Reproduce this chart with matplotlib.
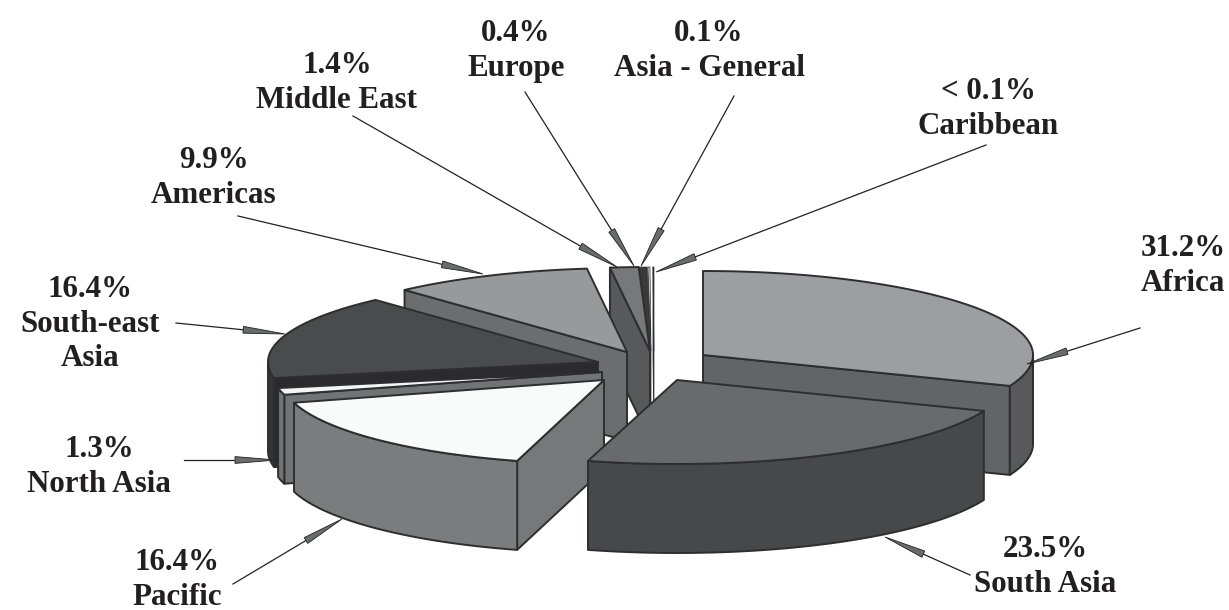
#!/usr/bin/env python3
# exploded 3d style pie, drawn by hand because matplotlib has no pie3d
import numpy as np
import matplotlib
matplotlib.use('Agg')
import matplotlib.pyplot as plt
from matplotlib.patches import Polygon

# data, clockwise from 12 o'clock
regions = ['Africa', 'South Asia', 'Pacific', 'North Asia', 'South-east\nAsia',
           'Americas', 'Middle East', 'Europe', 'Asia - General', 'Caribbean']
shares = [31.2, 23.5, 16.4, 1.3, 16.4, 9.9, 1.4, 0.4, 0.1, 0.05]
share_text = ['31.2%', '23.5%', '16.4%', '1.3%', '16.4%', '9.9%', '1.4%', '0.4%', '0.1%', '< 0.1%']

# styling per slice: top, wall, cut face
top_col = ['#9c9ea1', '#696a6c', '#f9fafa', '#f4f5f5', '#4a4b4d', '#97999b', '#77787a', '#3a3a3c', '#d5d6d6', '#262627']
wall_col = ['#58595b', '#47484a', '#7b7c7e', '#727375', '#333436', '#6c6d6f', '#58595b', '#333335', '#6c6d6f', '#262627']
face_col = ['#636466', '#47484a', '#77787a', '#727375', '#2b2b2d', '#6c6d6f', '#58595b', '#333335', '#6c6d6f', '#262627']
# where each exploded slice has its tip, in pixels
tip_x = [703, 677, 604, 602, 598, 627, 650, 650, 651, 654]
tip_y = [355, 380, 380, 372, 362, 352, 351, 351, 351, 351]
slice_rx = [330, 330, 322, 330, 330, 330, 330, 330, 330, 330]
draw_order = [9, 8, 7, 6, 0, 5, 4, 3, 2, 1]

ry, depth = 84, 89

# label position (centre of block) and leader start/end
label_x = [1183, 1045, 177, 99, 90, 214, 337, 516, 709, 988]
label_y = [266, 567, 580, 467, 324, 178, 83, 51, 51, 109]
lead_from = [(1140, 328), (970, 575), (233, 584), (184, 460), (176, 323),
             (238, 216), (353, 116), (525, 92), (734, 96), (986, 145)]
lead_to = [(1027, 364), (885, 537), (342, 519), (277, 460), (285, 334),
           (483, 274), (617, 267), (634, 266), (641, 266), (656, 272)]

plt.rcParams['font.family'] = ['Liberation Serif', 'DejaVu Serif']
fig = plt.figure(figsize=(12.29, 6.10), dpi=100)
ax = fig.add_axes([0, 0, 1, 1])
ax.set_xlim(0, 1229)
ax.set_ylim(610, 0)
ax.axis('off')

edge = '#2e2e30'

def rim(i, deg):
    t = np.radians(deg)
    return tip_x[i] + slice_rx[i] * np.sin(t), tip_y[i] - ry * np.cos(t)

def arc_pts(i, a, b):
    n = max(int(abs(b - a)), 2)
    x, y = rim(i, np.linspace(a, b, n))
    return np.column_stack([x, y])

def flat(pts, col, z, lw=1.4):
    ax.add_patch(Polygon(pts, closed=True, facecolor=col, edgecolor=edge, lw=lw, joinstyle='round', zorder=z))

ends = np.cumsum(shares) / np.sum(shares) * 360
starts = np.concatenate([[0], ends[:-1]])

for z, i in enumerate(draw_order):
    a, b = starts[i], ends[i]
    tip = np.array([tip_x[i], tip_y[i]])
    down = np.array([0, depth])
    lw = 0.5 if shares[i] < 1 else 1.4
    # cut faces that look towards the viewer
    if np.sin(np.radians(a)) < 0:
        p = np.array(rim(i, a))
        flat([p, tip, tip + down, p + down], face_col[i], z, lw)
    if np.sin(np.radians(b)) > 0:
        p = np.array(rim(i, b))
        flat([p, tip, tip + down, p + down], face_col[i], z, lw)
    # outside wall, only the front half of the rim
    w0, w1 = max(a, 90), min(b, 270)
    if w1 > w0:
        arc = arc_pts(i, w0, w1)
        flat(np.vstack([arc, (arc + down)[::-1]]), wall_col[i], z, lw)
    flat(np.vstack([tip, arc_pts(i, a, b)]), top_col[i], z, lw)

# leaders: hair line that swells into a spindle near the pie
for i in range(len(regions)):
    p0 = np.array(lead_from[i], float)
    p1 = np.array(lead_to[i], float)
    d = p1 - p0
    L = np.hypot(*d)
    u = d / L
    n = np.array([-u[1], u[0]])
    base = p1 - u * 42
    ax.plot([p0[0], base[0]], [p0[1], base[1]], color='#222222', lw=0.9, zorder=50)
    ax.add_patch(Polygon([base + n * 3.4, p1, base - n * 3.4], closed=True, facecolor='#6a6b6d',
                         edgecolor='#222222', lw=0.6, zorder=51))

for i in range(len(regions)):
    ax.text(label_x[i], label_y[i], share_text[i] + '\n' + regions[i], ha='center', va='center',
            fontsize=22.3, fontweight='bold', color='#231f20', linespacing=1.23, zorder=60)

fig.savefig('out.png', dpi=100)
